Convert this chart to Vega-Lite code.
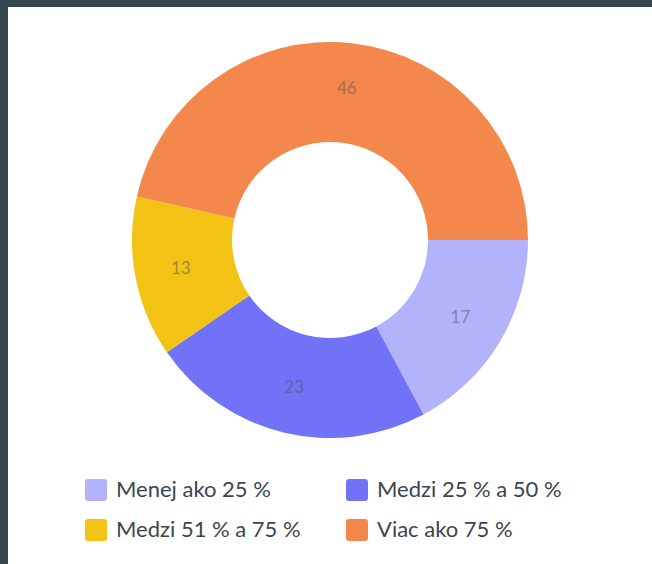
{
  "$schema": "https://vega.github.io/schema/vega-lite/v6.json",
  "usermeta": {"embedOptions": {"actions": false}},
  "background": "#37474f",
  "padding": {"left": 8, "top": 7, "right": 0, "bottom": 0},
  "config": {
    "view": {"fill": "white", "stroke": null},
    "font": "Lato"
  },
  "data": {
    "values": [
      {"cat": "Menej ako 25 %", "v": 17, "k": 1},
      {"cat": "Medzi 25 % a 50 %", "v": 23, "k": 2},
      {"cat": "Medzi 51 % a 75 %", "v": 13, "k": 3},
      {"cat": "Viac ako 75 %", "v": 46, "k": 4}
    ]
  },
  "spacing": 0,
  "vconcat": [
    {
      "width": 644,
      "height": 466,
      "view": {"fill": "white", "stroke": null},
      "encoding": {
        "theta": {"field": "v", "type": "quantitative", "stack": true, "scale": {"range": [1.5708, 7.854]}},
        "order": {"field": "k", "type": "quantitative"},
        "color": {
          "field": "cat",
          "type": "nominal",
          "scale": {
            "domain": ["Menej ako 25 %", "Medzi 25 % a 50 %", "Medzi 51 % a 75 %", "Viac ako 75 %"],
            "range": ["#b3b3fc", "#7272f8", "#f2c314", "#f4874b"]
          },
          "legend": {
            "title": null,
            "orient": "none",
            "legendX": 77,
            "legendY": 472,
            "columns": 2,
            "direction": "horizontal",
            "symbolType": "M-0.75,-1H0.75A0.25,0.25 0 0 1 1,-0.75V0.75A0.25,0.25 0 0 1 0.75,1H-0.75A0.25,0.25 0 0 1 -1,0.75V-0.75A0.25,0.25 0 0 1 -0.75,-1Z",
            "symbolSize": 484,
            "symbolStrokeWidth": 0,
            "symbolOpacity": 1,
            "labelFont": "Lato",
            "labelFontSize": 22,
            "labelColor": "#3b4550",
            "labelOffset": 9,
            "labelLimit": 400,
            "columnPadding": 45,
            "rowPadding": 18,
            "padding": 0
          }
        }
      },
      "layer": [
        {"mark": {"type": "arc", "innerRadius": 98, "outerRadius": 198}},
        {
          "mark": {"type": "text", "radius": 152, "fontSize": 17, "font": "Lato", "opacity": 0.5},
          "encoding": {"text": {"field": "v", "type": "quantitative"}, "color": {"value": "#555555"}}
        }
      ]
    },
    {
      "width": 644,
      "height": 91,
      "view": {"fill": "white", "stroke": null},
      "mark": {"type": "text"},
      "encoding": {"text": {"value": ""}}
    }
  ]
}
